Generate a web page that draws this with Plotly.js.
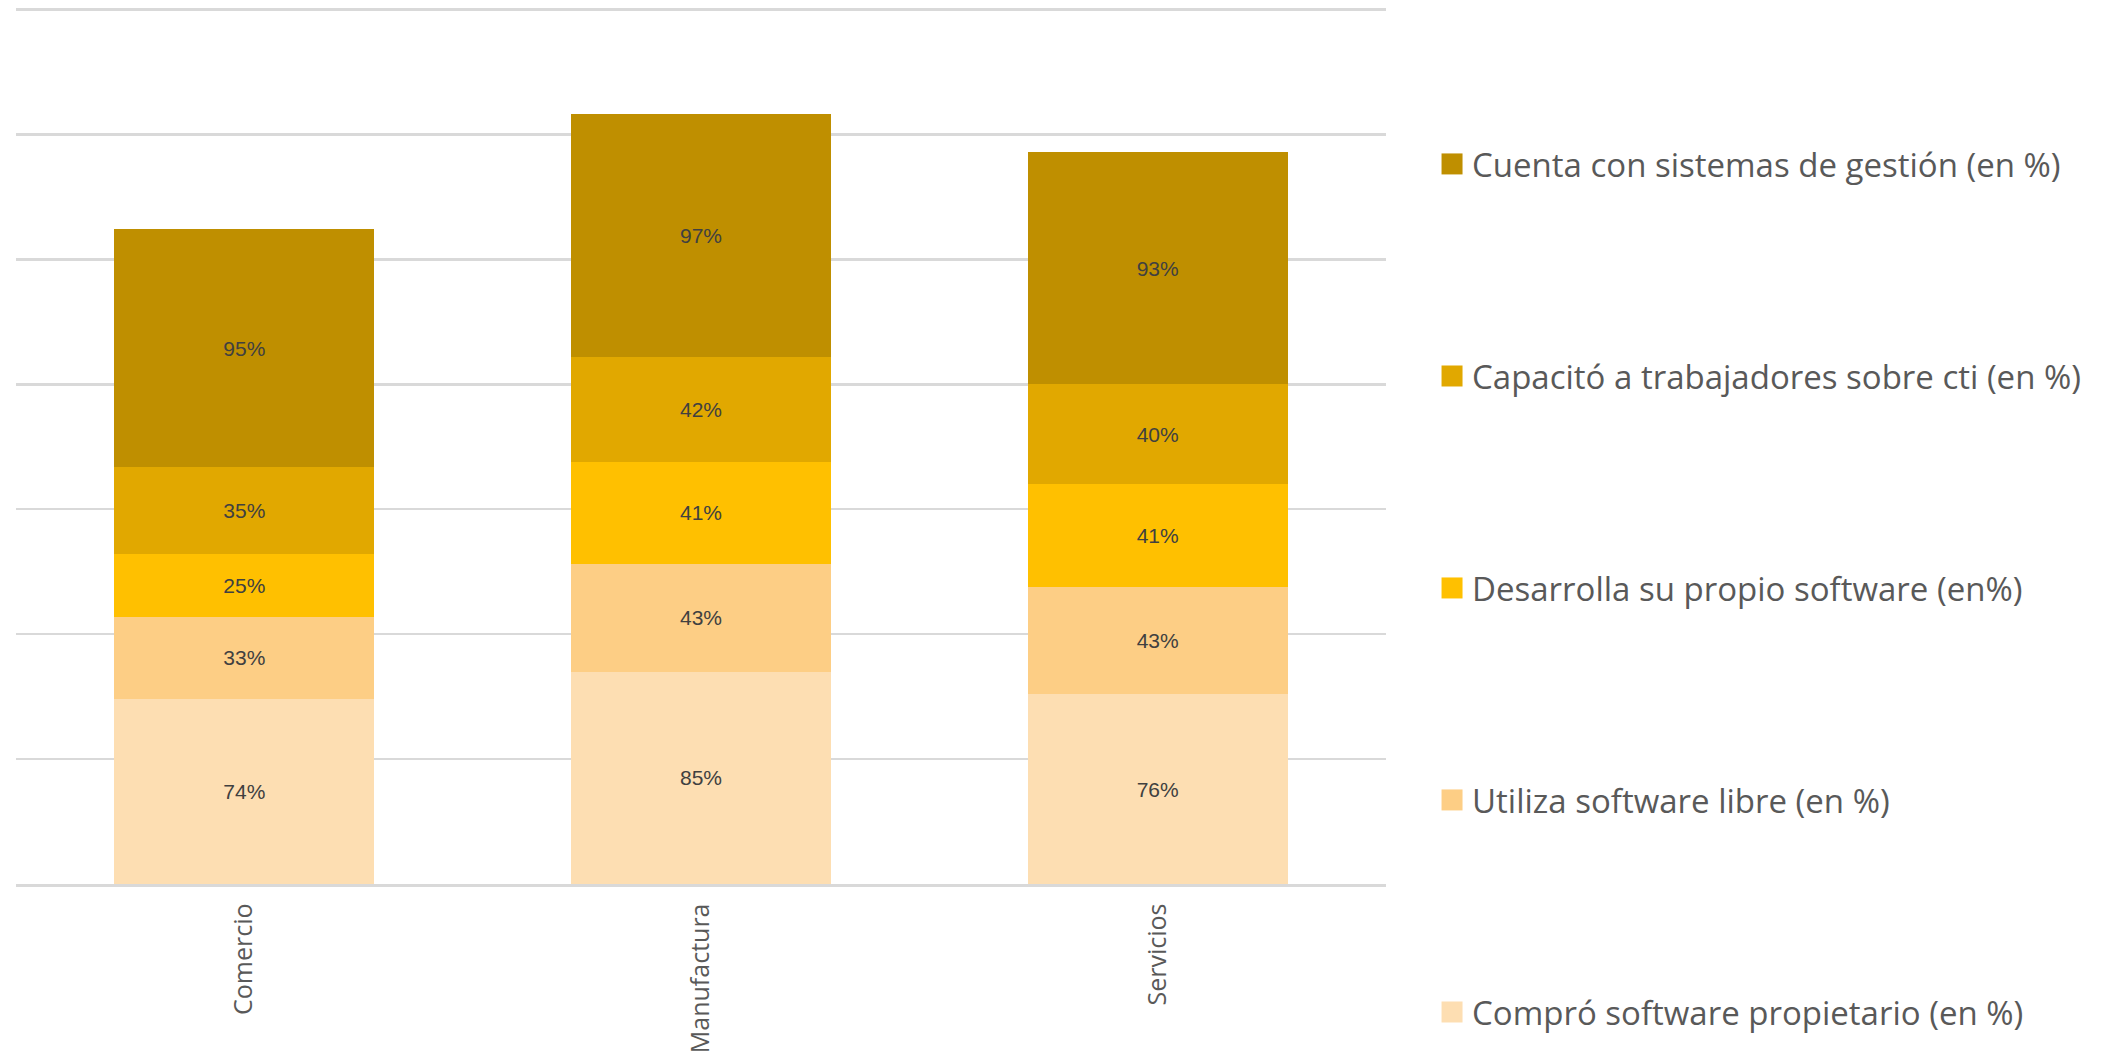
<!DOCTYPE html>
<html>
<head>
<meta charset="utf-8">
<script src="https://cdn.plot.ly/plotly-3.0.1.min.js"></script>
<style>
html,body{margin:0;padding:0;background:#fff;}
#chart{width:2106px;height:1058px;}
</style>
</head>
<body>
<div id="chart"></div>
<script>
const categories = ["Comercio", "Manufactura", "Servicios"];
const seriesNames = [
  "Compró software propietario (en %)",
  "Utiliza software libre (en %)",
  "Desarrolla su propio software (en%)",
  "Capacitó a trabajadores sobre cti (en %)",
  "Cuenta con sistemas de gestión (en %)"
];
const comproPropietario = [74, 85, 76];
const utilizaLibre = [33, 43, 43];
const desarrollaPropio = [25, 41, 41];
const capacitoCti = [35, 42, 40];
const cuentaGestion = [95, 97, 93];
const seriesValues = [comproPropietario, utilizaLibre, desarrollaPropio, capacitoCti, cuentaGestion];
const seriesColors = ["#FDDEB2", "#FDCE85", "#FFC000", "#E1A800", "#BF8F00"];

const legendIds = ["legend5", "legend4", "legend3", "legend2", "legend"];
const legendY = {legend: 0.821, legend2: 0.5792, legend3: 0.3375, legend4: 0.0958, legend5: -0.146};

const traces = seriesValues.map((vals, i) => ({
  type: "bar",
  name: seriesNames[i],
  x: categories,
  y: vals,
  legend: legendIds[i],
  marker: {color: seriesColors[i], line: {width: 0}},
  text: vals.map(v => v + "%"),
  texttemplate: "%{text}",
  textposition: "inside",
  insidetextanchor: "middle",
  insidetextfont: {family: "Liberation Sans Narrow, Liberation Sans, sans-serif", size: 21, color: "#404040"},
  constraintext: "none",
  hoverinfo: "skip"
}));

const layout = {
  width: 2106,
  height: 1058,
  barmode: "stack",
  bargap: 0.43,
  paper_bgcolor: "#ffffff",
  plot_bgcolor: "#ffffff",
  margin: {l: 16, r: 720, t: 7, b: 174},
  font: {family: "Open Sans, sans-serif", color: "#595959"},
  xaxis: {
    type: "category",
    tickangle: -90,
    tickfont: {family: "Open Sans, sans-serif", size: 25, color: "#595959"},
    ticks: "",
    ticklabelstandoff: 7,
    showline: true,
    linecolor: "#d9d9d9",
    linewidth: 2.5,
    showgrid: false,
    zeroline: false
  },
  yaxis: {
    range: [0, 351],
    dtick: 50,
    showticklabels: false,
    showgrid: true,
    gridcolor: "#d9d9d9",
    gridwidth: 2.5,
    zeroline: false,
    ticks: ""
  },
  showlegend: true
};
Object.keys(legendY).forEach(id => {
  layout[id] = {
    x: 1.0336,
    xanchor: "left",
    y: legendY[id],
    yanchor: "middle",
    font: {family: "Open Sans, sans-serif", size: 33, color: "#595959"},
    bgcolor: "rgba(0,0,0,0)"
  };
});

Plotly.newPlot("chart", traces, layout, {displayModeBar: false, staticPlot: true}).then(gd => {
  gd.querySelectorAll(".legendpoints path").forEach(p => {
    const t = p.getAttribute("transform") || "";
    p.setAttribute("transform", t + " scale(1.75)");
  });
});
</script>
</body>
</html>
